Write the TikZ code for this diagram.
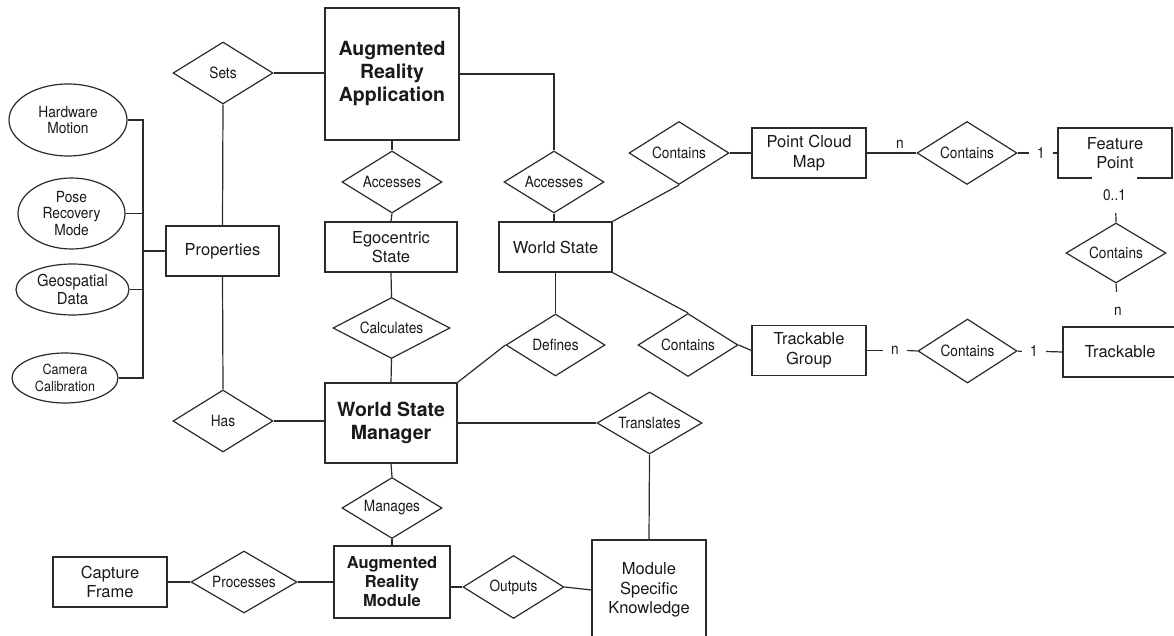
\documentclass[tikz,border=0pt]{standalone}
\usepackage{fontspec}
\setmainfont{TeX Gyre Heros}
\newfontfamily\condfont{TeX Gyre Heros}[FakeStretch=0.88]
\newfontfamily\attrfont{TeX Gyre Heros}[FakeStretch=0.9]
\usetikzlibrary{shapes.geometric}
\definecolor{ln}{HTML}{2B2B2B}
\definecolor{tx}{HTML}{1A1A1A}
\newcommand{\fsRel}{\condfont\fontsize{15.5}{18}\selectfont}
\newcommand{\fsEnt}{\fontsize{16.5}{19.5}\selectfont}
\newcommand{\fsBig}{\fontsize{19.5}{23}\selectfont\bfseries}
\newcommand{\fsMid}{\fontsize{16.5}{19}\selectfont\bfseries}
\newcommand{\fsAttr}{\attrfont\fontsize{15.3}{16.8}\selectfont}
\newcommand{\fsCard}{\condfont\fontsize{15.5}{17}\selectfont}
\begin{document}
\begin{tikzpicture}[x=1pt,y=-1pt,
  every node/.style={text=tx},
  ent/.style={draw=ln, line width=1.2pt, rectangle, inner sep=0pt, align=center, font=\fsEnt},
  rel/.style={draw=ln, line width=1.2pt, diamond, aspect=1.6, inner sep=0pt, font=\fsRel},
  attr/.style={draw=ln, line width=1.2pt, ellipse, inner sep=0pt, align=center, font=\fsAttr},
  lnk/.style={draw=ln, line width=1.2pt},
  card/.style={inner sep=0pt, font=\fsCard}]
\fill[white] (0,0) rectangle (1174,636);
\useasboundingbox (0,0) rectangle (1174,636);

% entities
\node[ent, minimum width=134, minimum height=132, font=\fsBig] (arapp) at (392,74) {Augmented\\Reality\\Application};
\node[ent, minimum width=113, minimum height=50] (props) at (222.5,251) {Properties};
\node[ent, minimum width=132, minimum height=50] (ego) at (391,247) {Egocentric\\State};
\node[ent, minimum width=113, minimum height=50] (ws) at (555.5,247) {World State};
\node[ent, minimum width=114, minimum height=50] (pcm) at (809,153) {Point Cloud\\Map};
\node[ent, minimum width=114, minimum height=50] (fp) at (1115,153) {Feature\\Point};
\node[ent, minimum width=132, minimum height=80, font=\fsBig] (wsm) at (391,423) {World State\\Manager};
\node[ent, minimum width=116, minimum height=72, font=\fsMid] (armod) at (392,582) {Augmented\\Reality\\Module};
\node[ent, minimum width=114, minimum height=50] (capture) at (110,582) {Capture\\Frame};
\node[ent, minimum width=114, minimum height=100] (msk) at (649,590) {Module\\Specific\\Knowledge};
\node[ent, minimum width=114, minimum height=50] (tg) at (809,350.5) {Trackable\\Group};
\node[ent, minimum width=114, minimum height=50] (trk) at (1120,352) {Trackable};

% attributes
\node[attr, minimum width=118, minimum height=72] (hw) at (68,120) {Hardware\\Motion};
\node[attr, minimum width=107, minimum height=71] (pose) at (71.5,213.5) {Pose\\Recovery\\Mode};
\node[attr, minimum width=113, minimum height=51, font=\attrfont\fontsize{16.5}{18}\selectfont] (geo) at (72.5,289.5) {Geospatial\\Data};
\node[attr, minimum width=106, minimum height=50, font=\attrfont\fontsize{14}{17}\selectfont] (cam) at (65,378) {Camera\\Calibration};

% relationships
\node[rel, minimum width=100, minimum height=62] (sets) at (223,73) {Sets};
\node[rel, minimum width=100, minimum height=62] (acc1) at (392,182) {Accesses};
\node[rel, minimum width=100, minimum height=62] (acc2) at (554,182) {Accesses};
\node[rel, minimum width=100, minimum height=63] (c1) at (679,153) {Contains};
\node[rel, minimum width=100, minimum height=63] (c2) at (967,153) {Contains};
\node[rel, minimum width=100, minimum height=60] (c3) at (1116,253) {Contains};
\node[rel, minimum width=117, minimum height=61] (calc) at (391.5,328) {Calculates};
\node[rel, minimum width=99, minimum height=62] (def) at (555.5,345) {Defines};
\node[rel, minimum width=100, minimum height=63] (c5) at (688,345) {Contains};
\node[rel, minimum width=99, minimum height=64] (c4) at (967.5,351) {Contains};
\node[rel, minimum width=100, minimum height=62] (has) at (223,421) {Has};
\node[rel, minimum width=105, minimum height=62] (trans) at (649.5,423) {Translates};
\node[rel, minimum width=100, minimum height=61] (man) at (392,508) {Manages};
\node[rel, minimum width=106, minimum height=62] (proc) at (244,582) {Processes};
\node[rel, minimum width=101, minimum height=63] (outp) at (513.5,587) {Outputs};

% cardinality labels
\node[card] (cn1) at (900,144) {n};
\node[card, minimum width=23, minimum height=18] (c1a) at (1041,153) {1};
\node[card, minimum height=38] (cn3) at (1118,311) {n};
\node[card, minimum width=24, minimum height=18] (cn4) at (895,350.5) {n};
\node[card, minimum width=24, minimum height=18] (c1b) at (1034,351.5) {1};

% bus for attributes
\coordinate (bus) at (143,251);
\draw[lnk] (hw.east) -| (bus) -- (props.west);
\draw[lnk] (pose.east) -| (bus);
\draw[lnk] (geo.east) -| (bus);
\draw[lnk] (cam.east) -| (bus);

% connectors
\draw[lnk] (sets.east) -- (sets.east -| arapp.west);
\draw[lnk] (sets.south) -- (props.north);
\draw[lnk] (props.south) -- (has.north);
\draw[lnk] (has.east) -- (has.east -| wsm.west);
\draw[lnk] (arapp.south) -- (acc1.north);
\draw[lnk] (acc1.south) -- (ego.north);
\draw[lnk] (ego.south) -- (calc.north);
\draw[lnk] (calc.south) -- (wsm.north);
\draw[lnk] (wsm.south) -- (man.north);
\draw[lnk] (man.south) -- (armod.north);
\draw[lnk] (arapp.east) -| (acc2.north);
\draw[lnk] (acc2.south) -- (acc2.south |- ws.north);
\draw[lnk] (ws.north east) -- (c1.south);
\draw[lnk] (c1.east) -- (pcm.west);
\draw[lnk] (pcm.east) -- (c2.west);
\draw[lnk] (c2.east) -- (c1a.west);
\draw[lnk] (c1a.east) -- (fp.west);
\draw[lnk] (fp.south) -- (c3.north);
\node[card, fill=white, minimum width=45, minimum height=36] (c01) at (1114.5,195) {0..1};
\draw[lnk] (c3.south) -- (cn3);
\draw[lnk] (ws.south) -- (def.north);
\draw[lnk] (def.west) -- (wsm.north east);
\draw[lnk] (ws.south east) -- (c5.north);
\draw[lnk] (c5.east) -- (tg.west);
\draw[lnk] (tg.east) -- (cn4.west);
\draw[lnk] (cn4.east) -- (c4.west);
\draw[lnk] (c4.east) -- (c1b.west);
\draw[lnk] (c1b.east) -- (trk.west);
\draw[lnk] (wsm.east |- trans.west) -- (trans.west);
\draw[lnk] (trans.south) -- (msk.north);
\draw[lnk] (outp.west -| armod.east) -- (outp.west);
\draw[lnk] (outp.east) -- (msk.west);
\draw[lnk] (capture.east) -- (proc.west);
\draw[lnk] (proc.east) -- (armod.west);
\end{tikzpicture}
\end{document}
